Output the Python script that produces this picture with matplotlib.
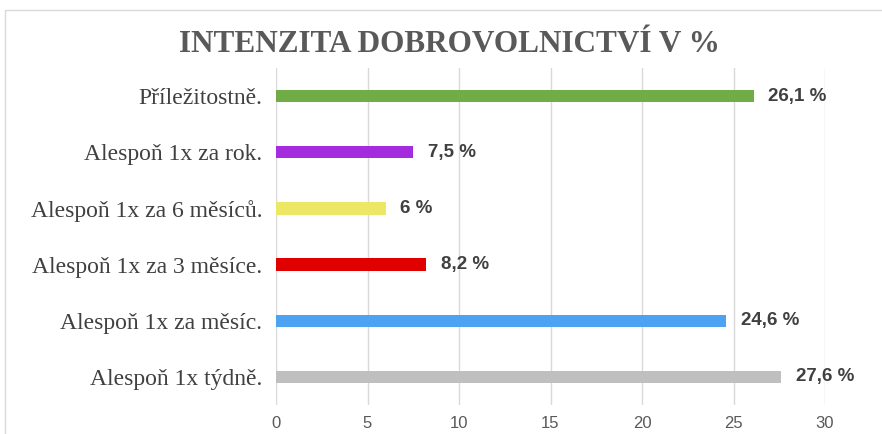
import matplotlib

matplotlib.use("Agg")
import matplotlib.pyplot as plt
from matplotlib.patches import Rectangle

# data, bottom to top as drawn
categories = [
    "Alespoň 1x týdně.",
    "Alespoň 1x za měsíc.",
    "Alespoň 1x za 3 měsíce.",
    "Alespoň 1x za 6 měsíců.",
    "Alespoň 1x za rok.",
    "Příležitostně.",
]
values = [27.6, 24.6, 8.2, 6.0, 7.5, 26.1]
value_labels = ["27,6 %", "24,6 %", "8,2 %", "6 %", "7,5 %", "26,1 %"]
colors = ["#BFBFBF", "#4DA3F2", "#E00000", "#ECE866", "#A52BDF", "#70AD47"]
xticks = [0, 5, 10, 15, 20, 25, 30]

fig = plt.figure(figsize=(8.82, 4.34), dpi=100)
fig.patches.append(Rectangle((5 / 882, -0.1), 1.2, 1 - 10 / 434 + 0.1, transform=fig.transFigure,
                             fill=False, edgecolor="#D9D9D9", linewidth=1))
ax = fig.add_axes([276 / 882, 1 - 405 / 434, 549 / 882, 337 / 434])

ypos = list(range(len(categories)))
ax.barh(ypos, values, height=0.22, color=colors, zorder=3)
for y, v, lab in zip(ypos, values, value_labels):
    ax.text(v + 0.8, y, lab, va="center", ha="left", fontsize=13.5, fontweight="bold",
            family="Liberation Sans", color="#404040")

ax.set_xlim(0, 30)
ax.set_ylim(-0.5, 5.5)
ax.set_xticks(xticks)
ax.set_xticklabels([str(t) for t in xticks], family="Liberation Sans", fontsize=12,
                   color="#595959")
ax.set_yticks(ypos)
ax.set_yticklabels(categories, family="Liberation Serif", fontsize=17, color="#404040")
ax.tick_params(axis="both", length=0)
ax.tick_params(axis="x", pad=8)
ax.tick_params(axis="y", pad=10)
ax.grid(axis="x", color="#D9D9D9", linewidth=1, zorder=0)
for s in ax.spines.values():
    s.set_visible(False)

# title sits a little right of the figure centre in the original
fig.text(449 / 882, 1 - 45 / 434, "INTENZITA DOBROVOLNICTVÍ V %", ha="center", va="center",
         family="Liberation Serif", fontweight="bold", fontsize=22.5, color="#595959")

fig.savefig("out.png", dpi=100)
